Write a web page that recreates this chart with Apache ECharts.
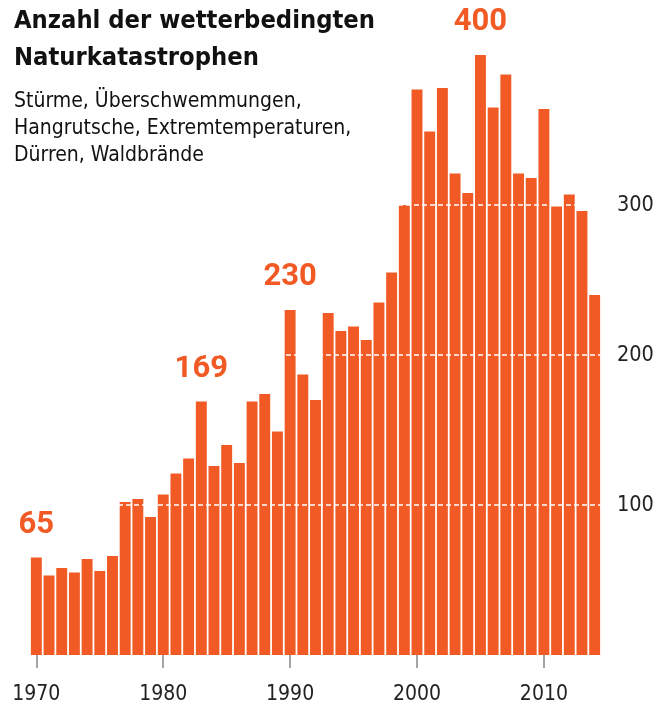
<!DOCTYPE html>
<html><head><meta charset="utf-8">
<script src="https://cdn.jsdelivr.net/npm/echarts@6/dist/echarts.min.js"></script>
<style>html,body{margin:0;padding:0;background:#fff}#c{width:658px;height:709px}</style>
</head><body><div id="c"></div>
<script>
const years = [];
for (let y = 1970; y <= 2014; y++) years.push(String(y));
const values = [65,53,58,55,64,56,66,102,104,92,107,121,131,169,126,140,128,169,174,149,
  230,187,170,228,216,219,210,235,255,300,377,349,378,321,308,400,365,387,321,318,364,299,307,296,240];
const highlightYears = ['1970','1983','1990','2005'];
const yTicks = [100,200,300];
const titleLines = ['Anzahl der wetterbedingten','Naturkatastrophen'];
const subtitleLines = ['Stürme, Überschwemmungen,','Hangrutsche, Extremtemperaturen,','Dürren, Waldbrände'];

const ORANGE = '#f15a24';
const NARROW = '"DejaVu Sans Condensed"';
const chart = echarts.init(document.getElementById('c'), null, {renderer:'canvas'});
const data = values.map((v,i) => {
  if (highlightYears.includes(years[i])) {
    return {value:v, label:{show:true, position:'top', distance:17, formatter:String(v),
      color:ORANGE, fontSize:31, fontWeight:'bold', fontFamily:'Roboto'}};
  }
  return v;
});
chart.setOption({
  animation:false,
  grid:{left:30, right:57, top:25, bottom:54},
  xAxis:{type:'category', data:years, offset:11,
    axisLine:{show:false},
    axisTick:{show:true, alignWithLabel:true, length:13, lineStyle:{color:'#888', width:1.5},
      interval:(i)=> i%10===0},
    axisLabel:{interval:(i)=> i%10===0, margin:18, color:'#222', fontSize:21, fontFamily:NARROW}
  },
  yAxis:{type:'value', position:'right', min:0, max:420, interval:100,
    splitLine:{show:false}, axisLine:{show:false}, axisTick:{show:false},
    axisLabel:{margin:16, color:'#222', fontSize:21.5, fontFamily:NARROW,
      formatter:(v)=> yTicks.includes(v) ? String(v) : ''}
  },
  series:[{type:'bar', data:data, barCategoryGap:'14%',
    itemStyle:{color:ORANGE},
    markLine:{silent:true, symbol:'none', label:{show:false},
      lineStyle:{color:'#fff', type:[5,3], width:1.5},
      data: yTicks.map(v=>({yAxis:v}))}
  }],
  graphic:[
    ...titleLines.map((t,i)=>({type:'text', left:14, top:9+i*37,
      style:{text:t, font:'bold 25.3px ' + NARROW, fill:'#111'}})),
    ...subtitleLines.map((t,i)=>({type:'text', left:14, top:91+i*27,
      style:{text:t, font:'21px ' + NARROW, fill:'#111'}}))
  ]
});
</script></body></html>
